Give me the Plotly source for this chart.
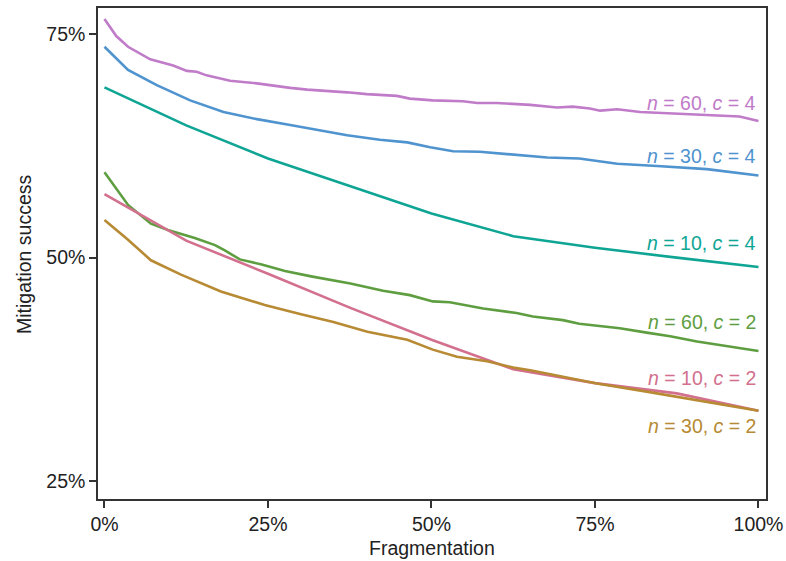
import plotly.graph_objects as go

# ---- data (x: fragmentation %, y: mitigation success %) ----
x_n60_c4 = [0, 1.8, 3.6, 7.0, 10.5, 12.6, 14.1, 15.6, 19.2, 23.3, 28.4, 31.0, 37.1, 40.1, 44.7, 46.7,
            50.2, 54.8, 57.0, 60.0, 65.1, 69.2, 71.6, 74.2, 75.8, 78.4, 81.9, 86.9, 92.1, 97.1, 100]
y_n60_c4 = [76.7, 74.8, 73.6, 72.2, 71.5, 70.9, 70.8, 70.4, 69.8, 69.5, 69.0, 68.8, 68.5, 68.3, 68.1, 67.8,
            67.6, 67.5, 67.3, 67.3, 67.1, 66.8, 66.9, 66.7, 66.45, 66.6, 66.3, 66.15, 65.95, 65.8, 65.3]

x_n30_c4 = [0, 3.6, 8.0, 13.1, 18.2, 23.3, 28.4, 31.9, 37.1, 42.1, 46.3, 49.8, 53.3, 57.4, 62.5, 67.7,
            72.6, 78.4, 84.5, 92.1, 100]
y_n30_c4 = [73.6, 71.0, 69.3, 67.6, 66.3, 65.5, 64.85, 64.4, 63.7, 63.2, 62.9, 62.35, 61.9, 61.85, 61.5, 61.2,
            61.1, 60.5, 60.25, 59.9, 59.2]

x_n10_c4 = [0, 12.5, 25, 37.5, 50, 62.5, 75, 87.5, 100]
y_n10_c4 = [69.05, 64.8, 61.1, 58.0, 54.95, 52.4, 51.1, 50.0, 48.95]

x_n60_c2 = [0, 3.6, 7.1, 9.7, 13.8, 16.9, 18.4, 20.7, 23.9, 27.6, 31.6, 37.6, 42.6, 46.7, 50.2, 52.8,
            57.9, 63.0, 65.5, 68.1, 70.1, 72.6, 78.8, 82.9, 86.5, 90.6, 95.6, 100]
y_n60_c2 = [59.55, 55.9, 53.8, 53.1, 52.2, 51.4, 50.8, 49.8, 49.25, 48.5, 47.9, 47.1, 46.3, 45.8, 45.1, 45.0,
            44.3, 43.8, 43.4, 43.2, 43.0, 42.6, 42.1, 41.6, 41.2, 40.6, 40.0, 39.55]

x_n10_c2 = [0, 12.5, 25, 37.5, 50, 62.5, 75, 87.5, 100]
y_n10_c2 = [57.1, 51.9, 48.2, 44.4, 40.8, 37.5, 35.95, 34.8, 32.85]

x_n30_c2 = [0, 3.6, 7.1, 11.7, 17.8, 24.5, 29.9, 35.0, 40.2, 46.3, 50.2, 53.9, 58.5, 62.5, 65.1, 70.1,
            75.3, 82.9, 90.6, 100]
y_n30_c2 = [54.2, 52.0, 49.7, 48.1, 46.2, 44.7, 43.7, 42.8, 41.7, 40.8, 39.7, 38.9, 38.4, 37.7, 37.4, 36.7,
            35.9, 35.0, 34.05, 32.85]

series_names = ["n60c4", "n30c4", "n10c4", "n60c2", "n10c2", "n30c2"]
label_texts = ["<i>n</i> = 60, <i>c</i> = 4", "<i>n</i> = 30, <i>c</i> = 4", "<i>n</i> = 10, <i>c</i> = 4",
               "<i>n</i> = 60, <i>c</i> = 2", "<i>n</i> = 10, <i>c</i> = 2", "<i>n</i> = 30, <i>c</i> = 2"]
label_y = [67.34, 61.37, 51.67, 42.82, 36.49, 31.18]
colors = ["#C07BC9", "#4F93CF", "#0FA595", "#5E9E41", "#D2708E", "#B78A33"]

xs = [x_n60_c4, x_n30_c4, x_n10_c4, x_n60_c2, x_n10_c2, x_n30_c2]
ys = [y_n60_c4, y_n30_c4, y_n10_c4, y_n60_c2, y_n10_c2, y_n30_c2]

x_ticks = [0, 25, 50, 75, 100]
x_tick_labels = ["0%", "25%", "50%", "75%", "100%"]
y_ticks = [25, 50, 75]
y_tick_labels = ["25%", "50%", "75%"]
x_title = "Fragmentation"
y_title = "Mitigation success"

FONT = "Liberation Sans, Arial, Helvetica, sans-serif"
TEXT_COL = "#222222"

fig = go.Figure()
for name, x, y, col in zip(series_names, xs, ys, colors):
    fig.add_trace(go.Scatter(x=x, y=y, mode="lines", name=name,
                             line=dict(color=col, width=2.6), showlegend=False))

for txt, yy, col in zip(label_texts, label_y, colors):
    fig.add_annotation(x=100, y=yy, text=txt, showarrow=False, xanchor="right", yanchor="middle",
                       font=dict(family=FONT, size=19.5, color=col))

# axis titles (placed as paper-referenced annotations)
fig.add_annotation(xref="paper", yref="paper", x=0.5, y=-0.0998, text=x_title, showarrow=False,
                   xanchor="center", yanchor="middle", font=dict(family=FONT, size=19.5, color=TEXT_COL))
fig.add_annotation(xref="paper", yref="paper", x=-0.110, y=0.498, text=y_title, showarrow=False,
                   textangle=-90, xanchor="center", yanchor="middle",
                   font=dict(family=FONT, size=19.5, color=TEXT_COL))

axis_common = dict(showgrid=False, zeroline=False, showline=True, linecolor="#333333", linewidth=1.5,
                   mirror=True, ticks="outside", ticklen=7, tickwidth=1.5, tickcolor="#333333",
                   automargin=False,
                   tickfont=dict(family=FONT, size=19.5, color=TEXT_COL))

fig.update_layout(
    width=786, height=561,
    margin=dict(l=98, r=20, t=8, b=62),
    paper_bgcolor="white", plot_bgcolor="white",
    xaxis=dict(range=[-0.99, 101.15], tickmode="array", tickvals=x_ticks, ticktext=x_tick_labels,
               **axis_common),
    yaxis=dict(range=[22.98, 77.94], tickmode="array", tickvals=y_ticks, ticktext=y_tick_labels,
               **axis_common),
)

fig.write_html("out.html")
